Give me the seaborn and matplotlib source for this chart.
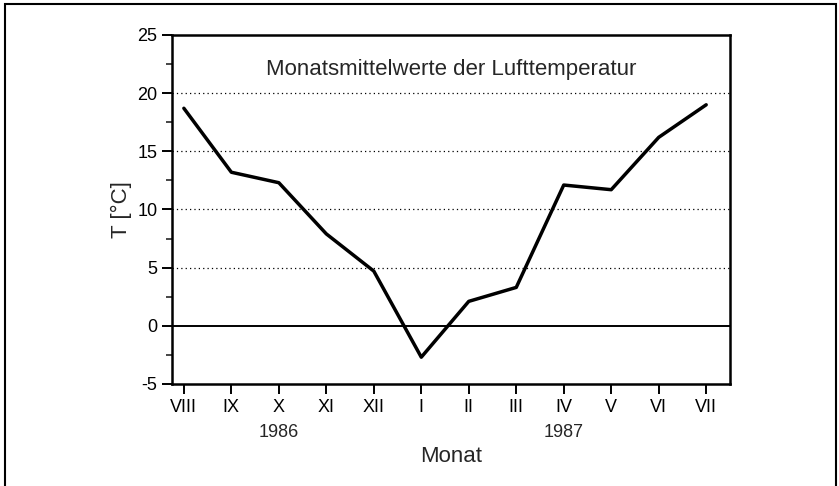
import pandas as pd
import matplotlib.pyplot as plt
import matplotlib.transforms as mtransforms
from matplotlib.patches import Rectangle
from matplotlib.ticker import MultipleLocator
import seaborn as sns

MONTHS = ["VIII", "IX", "X", "XI", "XII", "I", "II", "III", "IV", "V", "VI", "VII"]
TEMPS = [18.7, 13.2, 12.3, 7.9, 4.7, -2.7, 2.1, 3.3, 12.1, 11.7, 16.2, 19.0]
YEARS = ["1986", "1987"]
YEAR_AT = ["X", "IV"]

if __name__ == "__main__":
    sns.set_style("ticks")
    plt.rcParams["font.family"] = ["Liberation Sans", "DejaVu Sans"]
    plt.rcParams["axes.unicode_minus"] = False

    df = pd.DataFrame({"Monat": MONTHS, "T": TEMPS})

    fig = plt.figure(figsize=(8.39, 4.86), dpi=100)
    ax = fig.add_axes([0.205, 0.210, 0.665, 0.718])

    # outer frame around the whole figure
    fig.patches.append(Rectangle((0.006, -0.05), 0.990, 1.042, transform=fig.transFigure,
                                 fill=False, edgecolor="black", linewidth=1.5))

    for y in [5, 10, 15, 20]:
        ax.axhline(y, color="black", linestyle=(0, (1, 2.5)), linewidth=0.9, zorder=1)
    ax.axhline(0, color="black", linewidth=1.4, zorder=1)

    sns.lineplot(data=df, x="Monat", y="T", color="black", linewidth=2.5, sort=False, ax=ax, zorder=3)

    ax.set_xlim(-0.25, len(MONTHS) - 0.5)
    ax.set_ylim(-5, 25)
    ax.yaxis.set_major_locator(MultipleLocator(5))
    ax.yaxis.set_minor_locator(MultipleLocator(2.5))
    ax.tick_params(axis="both", which="major", direction="out", length=7, width=1.4,
                   labelsize=13, colors="black")
    ax.tick_params(axis="y", which="minor", direction="out", length=4, width=1.2)
    for s in ax.spines.values():
        s.set_linewidth(1.8)
        s.set_color("black")

    ax.set_xlabel("Monat", fontsize=16, labelpad=22)
    ax.set_ylabel("T [°C]", fontsize=16, labelpad=4)

    trans = mtransforms.blended_transform_factory(ax.transData, ax.transAxes)
    for year, at in zip(YEARS, YEAR_AT):
        ax.text(MONTHS.index(at), -0.14, year, transform=trans, ha="center", va="center", fontsize=13)

    ax.text(0.5, 0.9, "Monatsmittelwerte der Lufttemperatur", transform=ax.transAxes,
            ha="center", va="center", fontsize=16)

    plt.savefig("out.png", dpi=100)
    plt.close()
